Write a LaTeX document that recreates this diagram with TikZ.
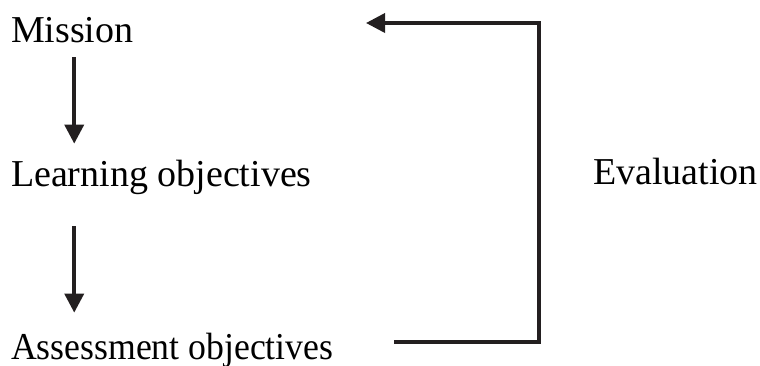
\documentclass[tikz,border=0pt]{standalone}
\usepackage{fontspec}
\setmainfont{Liberation Serif}
\usetikzlibrary{arrows.meta}
\definecolor{ink}{HTML}{231F20}
\begin{document}
\begin{tikzpicture}[x=1pt,y=-1pt,
  lbl/.style={anchor=base west,inner sep=0pt,outer sep=0pt,font=\fontsize{38}{44}\selectfont},
  conn/.style={draw=ink,line width=3.6pt,line join=miter,-{Triangle[length=19pt,width=19pt]}}]
\useasboundingbox (0,0) rectangle (760,366);
\node[lbl] (m) at (11,43) {Mission};
\node[lbl] (l) at (11,187) {Learning objectives};
\node[lbl] (a) at (11,359) {\scalebox{0.94}[1]{Assessment objectives}};
\node[lbl] (e) at (593,185) {Evaluation};
\coordinate (fbstart) at (394,342);
\coordinate (fbx) at (539,23);
\coordinate (fbend) at (366,23);
\draw[conn,shorten <=14pt,shorten >=17pt] ([xshift=2pt]m.south) -- ([xshift=2pt]m.south |- l.north);
\draw[conn,shorten <=31pt,shorten >=20pt] ([xshift=2pt]m.south |- l.south) -- ([xshift=2pt]m.south |- a.north);
\draw[conn] (fbstart) -| (fbx) |- (fbend);
\end{tikzpicture}
\end{document}
